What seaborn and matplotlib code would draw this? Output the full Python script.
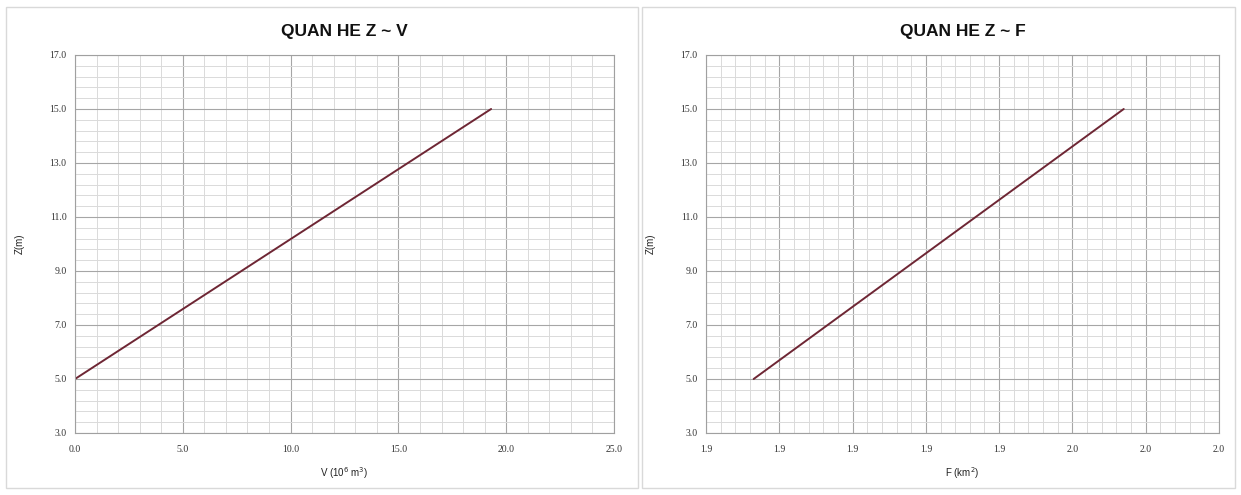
import numpy as np
import pandas as pd
import matplotlib
matplotlib.use("Agg")
import matplotlib.pyplot as plt
from matplotlib.ticker import MultipleLocator, FormatStrFormatter
from matplotlib.patches import Rectangle
import seaborn as sns

# values
z_v = [5.0, 15.0]          # Z (m) for the Z ~ V curve
v_vals = [0.0, 19.3]       # V (10^6 m3)
z_f = [5.0, 15.0]          # Z (m) for the Z ~ F curve
f_vals = [1.873, 1.974]    # F (km2)

df_v = pd.DataFrame({"V": v_vals, "Z": z_v})
df_f = pd.DataFrame({"F": f_vals, "Z": z_f})

sns.set_style("white")
plt.rcParams['font.family'] = ['Liberation Sans', 'DejaVu Sans']

fig = plt.figure(figsize=(12.41, 4.95), dpi=100)

# chart-area frames
for x0, w in [(6, 632), (642, 593)]:
    fig.patches.append(Rectangle((x0 / 1241, 7 / 495), w / 1241, 481 / 495,
                                 transform=fig.transFigure, fill=False,
                                 edgecolor='#d9d9d9', linewidth=1.0))

ax1 = fig.add_axes([75 / 1241, 1 - 433 / 495, 539 / 1241, 378 / 495])
ax2 = fig.add_axes([706 / 1241, 1 - 433 / 495, 513 / 1241, 378 / 495])

line_col = '#6e2634'

sns.lineplot(data=df_v, x="V", y="Z", ax=ax1, color=line_col, linewidth=1.4)
sns.lineplot(data=df_f, x="F", y="Z", ax=ax2, color=line_col, linewidth=1.4)

setups = [
    (ax1, (0, 25), 5, 1, 'QUAN HE Z ~ V', 'V (10$^{6}$ m$^{3}$)'),
    (ax2, (1.86, 2.0), 0.02, 0.004, 'QUAN HE Z ~ F', 'F (km$^{2}$)'),
]
for ax, xlim, xmaj, xmin, title, xlab in setups:
    ax.set_xlim(*xlim)
    ax.set_ylim(3, 17)
    ax.xaxis.set_major_locator(MultipleLocator(xmaj))
    ax.xaxis.set_minor_locator(MultipleLocator(xmin))
    ax.set_yticks(np.arange(3, 17.01, 2))
    ax.set_yticks(np.arange(3, 17.01, 0.4), minor=True)
    ax.yaxis.set_major_formatter(FormatStrFormatter('%.1f'))
    ax.xaxis.set_major_formatter(FormatStrFormatter('%.1f'))
    ax.grid(which='major', color='#a6a6a6', linewidth=0.8)
    ax.grid(which='minor', color='#dadada', linewidth=0.7)
    ax.set_axisbelow(True)
    for s in ax.spines.values():
        s.set_color('#a0a0a0')
        s.set_linewidth(0.8)
    ax.tick_params(axis='y', which='major', direction='out', length=3,
                   color='#808080', labelsize=7, pad=3)
    ax.tick_params(axis='x', which='major', direction='out', length=0,
                   labelsize=7, pad=9)
    ax.tick_params(which='minor', length=0)
    for lab in ax.get_xticklabels() + ax.get_yticklabels():
        lab.set_family('Liberation Serif')
        lab.set_color('#333333')
    ax.set_xlabel(xlab, fontsize=7, labelpad=8, color='#222222')
    ax.set_ylabel('Z(m)', fontsize=7, labelpad=18, color='#222222')
    ax.set_title(title, fontsize=12.5, fontweight='bold', pad=14, color='#111111')

fig.savefig('out.png', dpi=100)
